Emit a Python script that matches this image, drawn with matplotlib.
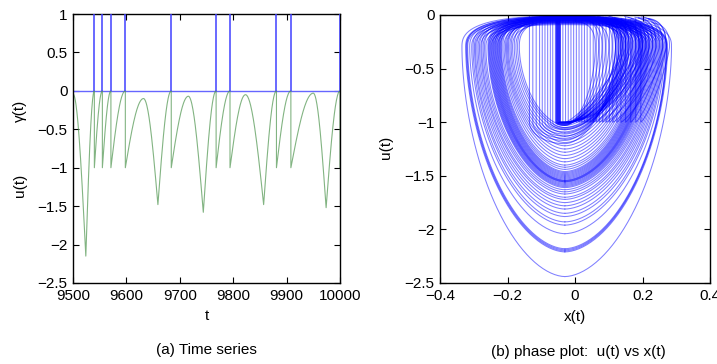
import numpy as np
import matplotlib
matplotlib.use("Agg")
import matplotlib.pyplot as plt

plt.rcParams['font.family'] = ['Liberation Sans', 'DejaVu Sans']

# ---------------- data: time series (a) ----------------
# key points of u(t): arch tops, minima and threshold crossings (u = 0 -> spike, reset)
ts_t = [9500, 9524, 9540, 9555, 9571, 9598, 9632, 9659, 9684, 9716, 9744,
        9768, 9794, 9823, 9857, 9881, 9908, 9950, 9974, 10000]
ts_u = [-0.04, -2.15, 0.0, 0.0, 0.0, 0.0, -0.10, -1.48, 0.0, -0.07, -1.58,
        0.0, 0.0, -0.05, -1.48, 0.0, 0.0, -0.03, -1.52, 0.0]
threshold = 0.0
reset_level = -1.0
gamma_height = 1.0

# ---------------- data: phase plot (b) ----------------
# closed loops: bottom depth, left / right extent, level of the flat top
loop_depth = [-2.44, -2.21, -2.20, -2.19, -2.18, -2.04, -1.96, -1.93, -1.88, -1.85,
              -1.81, -1.78, -1.75, -1.72, -1.70, -1.67, -1.65, -1.63,
              -1.61, -1.60, -1.59, -1.58, -1.57, -1.56, -1.555, -1.55, -1.545, -1.54,
              -1.53, -1.52, -1.51, -1.50, -1.49, -1.48, -1.47, -1.46, -1.44, -1.42,
              -1.40, -1.37, -1.34, -1.31, -1.28, -1.25,
              -1.22, -1.19, -1.16, -1.13, -1.10, -1.07, -1.05, -1.03]
loop_xleft = [-0.335, -0.324, -0.322, -0.320, -0.318, -0.312, -0.306, -0.302, -0.298, -0.295,
              -0.291, -0.287, -0.283, -0.279, -0.276, -0.272, -0.268, -0.264,
              -0.258, -0.256, -0.254, -0.252, -0.250, -0.248, -0.246, -0.244, -0.242, -0.240,
              -0.238, -0.236, -0.234, -0.232, -0.230, -0.228, -0.226, -0.224, -0.222, -0.220,
              -0.218, -0.214, -0.210, -0.206, -0.203, -0.200,
              -0.197, -0.193, -0.189, -0.185, -0.180, -0.175, -0.170, -0.165]
loop_xright = [0.286, 0.274, 0.272, 0.271, 0.270, 0.266, 0.262, 0.259, 0.256, 0.253,
               0.250, 0.247, 0.244, 0.241, 0.238, 0.235, 0.232, 0.229,
               0.226, 0.223, 0.220, 0.218, 0.216, 0.214, 0.212, 0.210, 0.208, 0.206,
               0.204, 0.202, 0.200, 0.198, 0.196, 0.194, 0.192, 0.190, 0.188, 0.185,
               0.182, 0.178, 0.175, 0.172, 0.168, 0.165,
               0.160, 0.156, 0.152, 0.148, 0.144, 0.140, 0.135, 0.130]
loop_top = [-0.010, -0.020, -0.030, -0.015, -0.040, -0.025, -0.050, -0.012, -0.035, -0.060,
            -0.020, -0.045, -0.030, -0.070, -0.015, -0.050, -0.025, -0.080,
            -0.010, -0.040, -0.020, -0.060, -0.030, -0.090, -0.015, -0.050, -0.025, -0.070,
            -0.035, -0.012, -0.055, -0.020, -0.080, -0.030, -0.045, -0.018, -0.065, -0.028,
            -0.040, -0.015, -0.060, -0.025, -0.050, -0.035,
            -0.020, -0.045, -0.030, -0.070, -0.015, -0.055, -0.025, -0.040]
# resets (u jumps 0 -> -1 at x), followed by an arc: bottom depth, right extent
reset_x = [-0.135, -0.125, -0.115, -0.105, -0.097, -0.089, -0.081, -0.073, -0.066,
           -0.058, -0.056, -0.055, -0.054, -0.053, -0.052, -0.051, -0.050, -0.049,
           -0.048, -0.047, -0.046, -0.045, -0.044, -0.043,
           -0.036, -0.028, -0.020, -0.012, -0.004, 0.004, 0.012, 0.020, 0.028, 0.036,
           0.045, 0.054, 0.063, 0.072, 0.082, 0.092, 0.102, 0.112, 0.124, 0.136,
           0.150, 0.165, 0.180, 0.195]
arc_depth = [-1.20, -1.17, -1.15, -1.13, -1.11, -1.09, -1.07, -1.06, -1.05,
             -1.03, -1.03, -1.02, -1.02, -1.02, -1.01, -1.01, -1.01, -1.01,
             -1.00, -1.00, -1.00, -1.00, -1.00, -1.00,
             -1.0, -1.0, -1.0, -1.0, -1.0, -1.0, -1.0, -1.0, -1.0, -1.0,
             -1.0, -1.0, -1.0, -1.0, -1.0, -1.0, -1.0, -1.0, -1.0, -1.0,
             -1.0, -1.0, -1.0, -1.0]
arc_xright = [0.120, 0.125, 0.130, 0.135, 0.140, 0.145, 0.150, 0.155, 0.160,
              0.060, 0.070, 0.080, 0.090, 0.100, 0.110, 0.120, 0.130, 0.140,
              0.150, 0.160, 0.170, 0.180, 0.190, 0.200,
              0.120, 0.150, 0.170, 0.190, 0.140, 0.200, 0.160, 0.210, 0.180, 0.220,
              0.190, 0.230, 0.200, 0.240, 0.210, 0.250, 0.220, 0.260, 0.230, 0.270,
              0.240, 0.260, 0.270, 0.280]

xticks_a = [9500, 9600, 9700, 9800, 9900, 10000]
yticks_a = [-2.5, -2, -1.5, -1, -0.5, 0, 0.5, 1]
yticklabels_a = ['\u22122.5', '\u22122', '\u22121.5', '\u22121', '\u22120.5', '0', '0.5', '1']
xticks_b = [-0.4, -0.2, 0, 0.2, 0.4]
xticklabels_b = ['\u22120.4', '\u22120.2', '0', '0.2', '0.4']
yticks_b = [-2.5, -2, -1.5, -1, -0.5, 0]
yticklabels_b = ['\u22122.5', '\u22122', '\u22121.5', '\u22121', '\u22120.5', '0']

# ---------------- figure ----------------
W, H = 717, 364
fig = plt.figure(figsize=(W / 100, H / 100), dpi=100)
axA = fig.add_axes([73 / W, 1 - 283 / H, 267 / W, 269 / H])
axB = fig.add_axes([440 / W, 1 - 283 / H, 270 / W, 268 / H])

FS = 11


def style(ax):
    ax.tick_params(direction='in', top=True, right=True, length=4, width=0.8,
                   labelsize=FS, pad=4)
    for s in ax.spines.values():
        s.set_linewidth(1.0)


# ---- (a) time series ----
def seg(a, b, n=40):
    s = np.linspace(0, 1, n)
    if b > a:
        return a + (b - a) * np.sin(np.pi / 2 * s)
    return a + (b - a) * (1 - np.cos(np.pi / 2 * s))


tt, uu = [], []
for i in range(1, len(ts_t)):
    t0, t1 = ts_t[i - 1], ts_t[i]
    u0 = reset_level if (ts_u[i - 1] == threshold and i - 1 > 0) else ts_u[i - 1]
    u1 = ts_u[i]
    tt.extend(np.linspace(t0, t1, 40))
    uu.extend(seg(u0, u1))
tt.append(ts_t[-1])
uu.append(reset_level)

spikes = [t for t, u in zip(ts_t, ts_u) if u == threshold]
axA.hlines(threshold, ts_t[0], ts_t[-1], color=(0.4, 0.4, 1.0), lw=1.0, zorder=2)
axA.vlines(spikes, threshold, gamma_height, color=(0.25, 0.25, 1.0), lw=1.1, zorder=3)
axA.plot(tt, uu, color=(0.3, 0.58, 0.3), lw=0.8, alpha=0.7, zorder=2)

axA.set_xlim(9500, 10000)
axA.set_ylim(-2.5, 1)
axA.set_xticks(xticks_a)
axA.set_yticks(yticks_a)
axA.set_yticklabels(yticklabels_a)
style(axA)
axA.set_xlabel('t', fontsize=FS, labelpad=5)
fig.text(20 / W, 1 - 111 / H, '\u03b3(t)', rotation=90, ha='center', va='center', fontsize=FS)
fig.text(20 / W, 1 - 185 / H, 'u(t)', rotation=90, ha='center', va='center', fontsize=FS)
fig.text(206 / W, 1 - 350 / H, '(a) Time series', ha='center', va='center', fontsize=FS)

# ---- (b) phase plot ----
xb = -0.03   # x at loop bottoms
uc = -0.3    # level where the side branches turn into the top
blue = (0.0, 0.0, 1.0)
LW, AL = 0.75, 0.5
Q = 1.11     # shape exponent of the lower half
P = 0.75     # shape exponent of the upper (flat) half
Q2 = 1.6     # shape exponent of arcs that leave a reset at x >= xb


def loop_xy(d, xl, xr, ut, th):
    s, c = np.sin(th), np.cos(th)
    e = np.where(c >= 0, Q, P)
    sx = np.sign(s) * np.abs(s) ** e
    x = np.where(s >= 0, xb + (xr - xb) * sx, xb + (xb - xl) * sx)
    u = np.where(c >= 0, uc + (d - uc) * np.abs(c) ** Q, uc + (ut - uc) * np.abs(c) ** P)
    return x, u


for d, xl, xr, ut in zip(loop_depth, loop_xleft, loop_xright, loop_top):
    th = np.linspace(0, 2 * np.pi, 300)
    x, u = loop_xy(d, xl, xr, ut, th)
    axB.plot(x, u, color=blue, lw=LW, alpha=AL)

for k, (x0, d, xr) in enumerate(zip(reset_x, arc_depth, arc_xright)):
    ut = loop_top[k % len(loop_top)]
    px, pu = [x0, x0], [ut, reset_level]
    if x0 < xb:
        phi = np.linspace(0, np.pi / 2, 30)
        px.extend(xb - (xb - x0) * np.cos(phi))
        pu.extend(d + (reset_level - d) * (1 - np.sin(phi)))
        bx, q = xb, Q
    else:
        bx, d, q = x0, reset_level, Q2
    psi = np.linspace(0, np.pi / 2, 50)
    px.extend(bx + (xr - bx) * np.sin(psi) ** q)
    pu.extend(uc + (d - uc) * np.cos(psi) ** q)
    ph = np.linspace(np.pi / 2, 0.95 * np.pi, 25)
    px.extend(xr - 0.07 + 0.07 * np.sin(ph) ** P)
    pu.extend(uc + (ut - uc) * np.abs(np.cos(ph)) ** P)
    axB.plot(px, pu, color=blue, lw=LW, alpha=AL)

axB.set_xlim(-0.4, 0.4)
axB.set_ylim(-2.5, 0)
axB.set_xticks(xticks_b)
axB.set_xticklabels(xticklabels_b)
axB.set_yticks(yticks_b)
axB.set_yticklabels(yticklabels_b)
style(axB)
axB.set_xlabel('x(t)', fontsize=FS, labelpad=5)
fig.text(386 / W, 1 - 147 / H, 'u(t)', rotation=90, ha='center', va='center', fontsize=FS)
fig.text(578 / W, 1 - 352 / H, '(b) phase plot:  u(t) vs x(t)', ha='center', va='center', fontsize=FS)

fig.savefig('out.png', dpi=100)
